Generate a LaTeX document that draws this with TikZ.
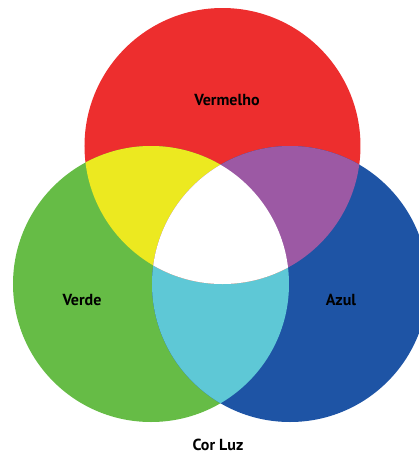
\documentclass[tikz,border=0pt]{standalone}
\usepackage{fontspec}
\setmainfont{PT Sans}
\begin{document}
\begin{tikzpicture}[x=0.75pt,y=-0.75pt]
    \definecolor{red_color}{RGB}{237,46,46}
    \definecolor{green_color}{RGB}{102,188,70}
    \definecolor{blue_color}{RGB}{30,84,165}
    \definecolor{yellow_color}{RGB}{236,233,32}
    \definecolor{purple_color}{RGB}{156,89,164}
    \definecolor{cyan_color}{RGB}{94,200,214}
    \tikzstyle{ann} = [inner sep=0pt, text=black, font=\fontsize{12}{14}\selectfont\bfseries]
    \useasboundingbox (0,0) rectangle (419,455);
    \clip (0,0) rectangle (419,455);
    \coordinate (cR) at (222.5,146);
    \coordinate (cG) at (151,284);
    \coordinate (cB) at (290,284);
    % primary circles
    \fill[red_color] (cR) circle (138);
    \fill[green_color] (cG) circle (138);
    \fill[blue_color] (cB) circle (138);
    % overlaps
    \begin{scope}
        \clip (cG) circle (138);
        \fill[cyan_color] (cB) circle (138);
    \end{scope}
    \begin{scope}
        \clip (cR) circle (138);
        \fill[yellow_color] (cG) circle (138);
        \fill[purple_color] (cB) circle (138);
        \clip (cG) circle (138);
        \fill[white] (cB) circle (138);
    \end{scope}
    \node[ann] (vermelho) at (227,100) {Vermelho};
    \node[ann] (verde) at (82,300) {Verde};
    \node[ann] (azul) at (341,300) {Azul};
    \node[ann] (corluz) at (218,445) {Cor Luz};
\end{tikzpicture}
\end{document}
